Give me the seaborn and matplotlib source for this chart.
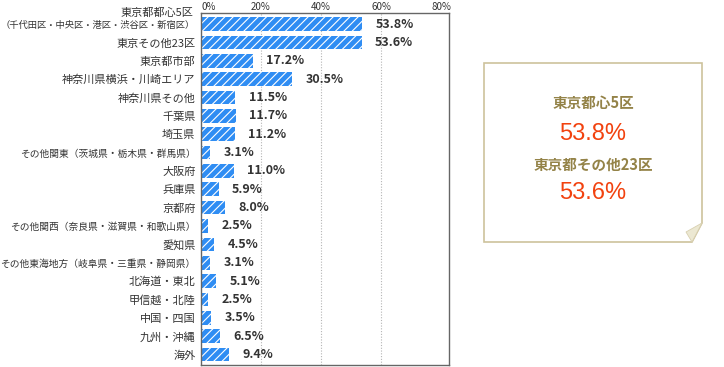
import matplotlib
matplotlib.use("Agg")
import matplotlib.pyplot as plt
from matplotlib.patches import Polygon
import seaborn as sns

categories = [
    "東京都都心5区\n（千代田区・中央区・港区・渋谷区・新宿区）",
    "東京その他23区",
    "東京都市部",
    "神奈川県横浜・川崎エリア",
    "神奈川県その他",
    "千葉県",
    "埼玉県",
    "その他関東（茨城県・栃木県・群馬県）",
    "大阪府",
    "兵庫県",
    "京都府",
    "その他関西（奈良県・滋賀県・和歌山県）",
    "愛知県",
    "その他東海地方（岐阜県・三重県・静岡県）",
    "北海道・東北",
    "甲信越・北陸",
    "中国・四国",
    "九州・沖縄",
    "海外",
]
values = [53.8, 53.6, 17.2, 30.5, 11.5, 11.7, 11.2, 3.1, 11.0, 5.9, 8.0,
          2.5, 4.5, 3.1, 5.1, 2.5, 3.5, 6.5, 9.4]
x_ticks = [0, 20, 40, 60, 80]
x_ticklabels = ["0%", "20%", "40%", "60%", "80%"]
callout_titles = ["東京都心5区", "東京都その他23区"]
callout_values = ["53.8%", "53.6%"]

sns.set_style("white")
plt.rcParams["font.family"] = ["Noto Sans CJK JP", "DejaVu Sans"]
plt.rcParams["hatch.linewidth"] = 0.8

W, H = 724, 367
fig = plt.figure(figsize=(W / 100, H / 100), dpi=100)

def fx(x):
    return x / W

def fy(y):
    return 1 - y / H

ax = fig.add_axes([fx(201), fy(365), fx(449) - fx(201), fy(13) - fy(365)])

blue = "#2f8df3"
sns.barplot(x=values, y=categories, orient="h", color=blue, saturation=1,
            width=0.74, ax=ax)
for p in ax.patches:
    p.set_hatch("////")
    p.set_edgecolor("white")
    p.set_linewidth(0)

ax.set_xlim(0, 82.67)
ax.set_ylim(18.57, -0.6)
for gx in x_ticks[1:4]:
    ax.axvline(gx, color="#b5b5b5", lw=0.8, ls=(0, (1, 1.5)), zorder=0)

ax.xaxis.tick_top()
ax.set_xticks(x_ticks)
ax.set_xticklabels(x_ticklabels)
ax.tick_params(axis="x", length=0, pad=1, labelsize=7, labelcolor="#333333")
ax.tick_params(axis="y", length=0, pad=4, labelsize=8, labelcolor="#333333")
ax.get_xticklabels()[0].set_horizontalalignment("left")
for lbl in ax.get_yticklabels():
    txt = lbl.get_text()
    if "\n" in txt:
        # two-line label drawn as two texts with individual sizes
        lbl.set_visible(False)
        line1, line2 = txt.split("\n")
        ax.annotate(line1, xy=(0, 0), xycoords=ax.get_yaxis_transform(),
                    xytext=(-5.8, 7.9), textcoords="offset points",
                    ha="right", va="center", fontsize=8, color="#333333")
        ax.annotate(line2, xy=(0, 0), xycoords=ax.get_yaxis_transform(),
                    xytext=(-4.3, -0.7), textcoords="offset points",
                    ha="right", va="center", fontsize=6.7, color="#333333")
    elif len(txt) >= 18:
        lbl.set_fontsize(7.0)
ax.set_xlabel("")
ax.set_ylabel("")

for sp in ax.spines.values():
    sp.set_visible(True)
    sp.set_color("#666666")
    sp.set_linewidth(1.0)

for i, v in enumerate(values):
    ax.annotate(f"{v:.1f}%", xy=(v, i), xytext=(9.5, 0),
                textcoords="offset points", va="center", ha="left",
                fontsize=9, fontweight="bold", color="#333333")

# callout note box
border = "#cdc29c"
pts = [(484, 63), (702, 63), (702, 223), (692, 242), (484, 242)]
fig.add_artist(Polygon([(fx(x), fy(y)) for x, y in pts], closed=True,
                       transform=fig.transFigure, facecolor="white",
                       edgecolor=border, linewidth=1.2))
fold = [(702, 223), (692, 242), (686, 232)]
fig.add_artist(Polygon([(fx(x), fy(y)) for x, y in fold], closed=True,
                       transform=fig.transFigure, facecolor="#ece8d2",
                       edgecolor="#d8d0b0", linewidth=0.6))

cx = fx(593)
title_color = "#948348"
red = "#f2420f"
fig.text(cx, fy(103), callout_titles[0], ha="center", va="center",
         fontsize=10.5, fontweight="bold", color=title_color)
fig.text(cx, fy(134), callout_values[0], ha="center", va="center",
         fontsize=17, color=red, family=["Liberation Sans", "DejaVu Sans"])
fig.text(cx, fy(165), callout_titles[1], ha="center", va="center",
         fontsize=10.5, fontweight="bold", color=title_color)
fig.text(cx, fy(193), callout_values[1], ha="center", va="center",
         fontsize=17, color=red, family=["Liberation Sans", "DejaVu Sans"])

fig.savefig("out.png", dpi=100)
